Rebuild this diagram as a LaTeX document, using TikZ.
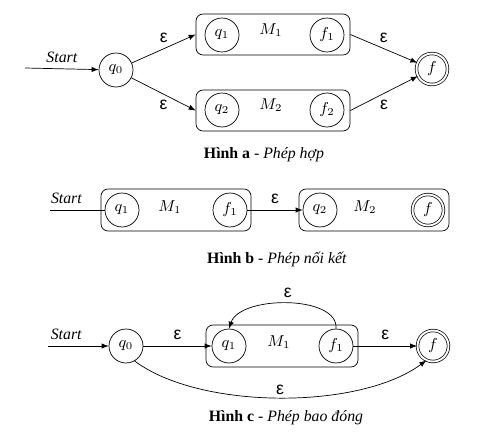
\documentclass[tikz,border=0pt]{standalone}
\usepackage{fontspec}
\setmainfont{Liberation Serif}
\setsansfont{Liberation Sans}
\usepackage{tikz}
\usetikzlibrary{arrows, positioning, calc}

\begin{document}
\begin{tikzpicture}[x=0.02cm, y=-0.02cm, >=latex,
    qstate/.style={circle, draw, thin, minimum size=0.68cm, inner sep=0pt, font=\small},
    fstate/.style={circle, draw, thin, double, double distance=1.1pt, minimum size=0.62cm, inner sep=0pt, font=\small},
    mbox/.style={rectangle, draw, thin, rounded corners=4pt, minimum height=0.82cm},
    eps/.style={font=\sffamily},
    lbl/.style={font=\small\itshape}]

\useasboundingbox (0,0) rectangle (490,436);

% Hinh a: phep hop
\node[mbox, minimum width=3.08cm] (boxa1) at (273,34.5) {};
\node[mbox, minimum width=3.08cm] (boxa2) at (273,110.5) {};
\node[qstate] (q0a) at (116,70) {$q_0$};
\node[qstate] (q1a) at (222,35) {$q_1$};
\node[qstate] (f1a) at (327,35) {$f_1$};
\node[qstate] (q2a) at (222,110) {$q_2$};
\node[qstate] (f2a) at (327,110) {$f_2$};
\node[font=\small] (m1a) at (271,30) {$M_1$};
\node[font=\small] (m2a) at (271,105) {$M_2$};
\node[fstate] (fa) at (432,69) {$f$};
\coordinate (sa) at (25,68);

\draw[->] (sa) -- (q0a) node[midway, above, lbl] {Start};
\draw[->] (q0a) -- (boxa1.west) node[midway, above, eps] {ε};
\draw[->] (q0a) -- (boxa2.west) node[midway, below, eps] {ε};
\draw[->] (boxa1.east) -- (fa) node[midway, above, eps] {ε};
\draw[->] (boxa2.east) -- (fa) node[midway, below, eps] {ε};

\node[font=\small] (capa) at (264,155) {\textbf{Hình a} - \textit{Phép hợp}};

% Hinh b: phep noi ket
\node[mbox, minimum width=3.0cm, minimum height=0.84cm] (boxb1) at (176,210) {};
\node[mbox, minimum width=3.0cm, minimum height=0.84cm] (boxb2) at (374,210) {};
\node[qstate] (q1b) at (122,210) {$q_1$};
\node[qstate] (f1b) at (230,210) {$f_1$};
\node[qstate] (q2b) at (320,210) {$q_2$};
\node[fstate] (fb) at (428,210) {$f$};
\node[font=\small] (m1b) at (170,207) {$M_1$};
\node[font=\small] (m2b) at (365,207) {$M_2$};
\coordinate (sb) at (50,210);

\draw (sb) -- (q1b) node[pos=0.3, above, lbl] {Start};
\draw[->] (f1b) -- (q2b) node[midway, above, eps] {ε};

\node[font=\small] (capb) at (277,259) {\textbf{Hình b} - \textit{Phép nối kết}};

% Hinh c: phep bao dong
\node[mbox, minimum width=3.04cm, minimum height=0.84cm] (boxc) at (282,346) {};
\node[qstate] (q0c) at (126,346) {$q_0$};
\node[qstate] (q1c) at (229,346) {$q_1$};
\node[qstate] (f1c) at (336,346) {$f_1$};
\node[font=\small] (m1c) at (279,342) {$M_1$};
\node[fstate] (fc) at (433,346) {$f$};
\coordinate (sc) at (48,346);

\draw[->] (sc) -- (q0c) node[pos=0.3, above, lbl] {Start};
\draw[->] (q0c) -- (q1c) node[midway, above, eps] {ε};
\draw[->] (f1c) -- (fc) node[midway, above, eps] {ε};
\draw[->] (f1c.north) .. controls (339,295) and (240,295) .. (q1c.north)
    node[pos=0.5, above, eps] {ε};
\draw[->] (q0c.-60) .. controls (200,410) and (360,410) .. (fc.-115)
    node[pos=0.5, above=-2pt, eps] {ε};

\node[font=\small] (capc) at (286,418) {\textbf{Hình c} - \textit{Phép bao đóng}};

\end{tikzpicture}
\end{document}
